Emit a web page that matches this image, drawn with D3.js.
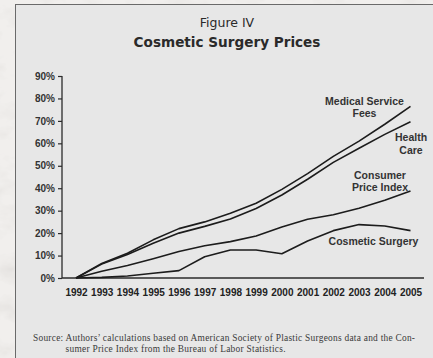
<!DOCTYPE html>
<html>
<head>
<meta charset="utf-8">
<script src="https://cdn.jsdelivr.net/npm/d3@7/dist/d3.min.js"></script>
<style>
  html, body { margin: 0; padding: 0; background: #efedeb; }
  svg { display: block; }
</style>
</head>
<body>
<svg id="chart" width="433" height="358"></svg>
<script>
// Years on the x axis
const years = [1992, 1993, 1994, 1995, 1996, 1997, 1998, 1999, 2000, 2001, 2002, 2003, 2004, 2005];

// Cumulative price change since 1992, in percent
const medicalServiceFees = [0, 6.5, 11, 17, 22, 25, 28.8, 33.3, 39.5, 46.5, 54.2, 61, 68.5, 76.5];
const healthCare         = [0, 6.2, 10.5, 15.5, 20, 23, 26.3, 31, 37, 44, 51.5, 57.8, 64, 69.6];
const consumerPriceIndex = [0, 3.0, 5.6, 8.6, 11.8, 14.4, 16.2, 18.7, 22.7, 26.2, 28.2, 31.1, 34.6, 38.8];
const cosmeticSurgery    = [0, 0.3, 0.9, 2.1, 3.3, 9.5, 12.5, 12.5, 10.8, 16.5, 21.1, 23.8, 23.2, 21.1];

// Y axis ticks
const yTicks = [0, 10, 20, 30, 40, 50, 60, 70, 80, 90];

const seriesNames = ["Medical Service Fees", "Health Care", "Consumer Price Index", "Cosmetic Surgery"];
const seriesValues = [medicalServiceFees, healthCare, consumerPriceIndex, cosmeticSurgery];

const svg = d3.select("#chart");

// Pale marble backdrop behind the figure panel
const defs = svg.append("defs");
const stone = defs.append("filter").attr("id", "stone")
  .attr("x", 0).attr("y", 0).attr("width", "100%").attr("height", "100%");
stone.append("feTurbulence").attr("type", "fractalNoise")
  .attr("baseFrequency", "0.03 0.05").attr("numOctaves", 4).attr("seed", 7).attr("result", "noise");
stone.append("feColorMatrix").attr("in", "noise").attr("type", "matrix")
  .attr("values", "0 0 0 0 0.62  0 0 0 0 0.6  0 0 0 0 0.58  -1.4 0 0 0 0.75")
  .attr("result", "veins");
stone.append("feComposite").attr("in", "veins").attr("in2", "SourceGraphic").attr("operator", "over");

svg.append("rect").attr("width", 433).attr("height", 358).attr("fill", "#f1efed");
svg.append("rect").attr("width", 433).attr("height", 358).attr("fill", "#f1efed")
  .attr("filter", "url(#stone)").attr("opacity", 0.55);

// Figure panel
svg.append("rect")
  .attr("x", 15.5).attr("y", 4.5).attr("width", 430).attr("height", 360)
  .attr("fill", "#e7e7e7").attr("stroke", "#6a6a6a").attr("stroke-width", 1);

// Titles
svg.append("text").attr("x", 227).attr("y", 27).attr("text-anchor", "middle")
  .attr("font-family", "'DejaVu Sans', sans-serif").attr("font-size", 12.5)
  .attr("fill", "#2a2a2a").text("Figure IV");
svg.append("text").attr("x", 227).attr("y", 47).attr("text-anchor", "middle")
  .attr("font-family", "'DejaVu Sans', sans-serif").attr("font-weight", "bold").attr("font-size", 13.6)
  .attr("fill", "#2a2a2a").text("Cosmetic Surgery Prices");

// Scales
const x = d3.scaleLinear().domain([1992, 2005]).range([76, 410.5]);
const y = d3.scaleLinear().domain([0, 90]).range([278, 76]);

const ink = "#2b2b2b";

// Y axis
const yAxis = svg.append("g").attr("transform", "translate(62,0)")
  .call(d3.axisLeft(y).tickValues(yTicks).tickFormat(d => d + "%").tickSize(4).tickPadding(3));
yAxis.select(".domain").attr("stroke", ink).attr("stroke-width", 1.3).attr("d", `M0,${y(90)}V${y(0)}`);
yAxis.selectAll(".tick line").attr("stroke", ink).attr("stroke-width", 1.2);
yAxis.selectAll(".tick text")
  .attr("font-family", "'Liberation Sans', Arial, sans-serif").attr("font-weight", "bold")
  .attr("font-size", 10).attr("fill", "#333");

// X axis baseline and year labels
const xAxis = svg.append("g").attr("transform", `translate(0,${y(0)})`)
  .call(d3.axisBottom(x).tickValues(years).tickFormat(d3.format("d")).tickSize(0).tickPadding(11));
xAxis.select(".domain").attr("stroke", ink).attr("stroke-width", 1.3).attr("d", "M62,0H424");
xAxis.selectAll(".tick text")
  .attr("font-family", "'Liberation Sans', Arial, sans-serif").attr("font-weight", "bold")
  .attr("font-size", 10).attr("fill", "#222");

// Series lines
const line = d3.line().x((d, i) => x(years[i])).y(d => y(d));
svg.append("g").selectAll("path").data(seriesValues).join("path")
  .attr("d", line).attr("fill", "none").attr("stroke", "#1c1c1c")
  .attr("stroke-width", 1.6).attr("stroke-linejoin", "round");

// Series labels
const labels = [
  { lines: ["Medical Service", "Fees"], x: 364.5, y: 104.5 },
  { lines: ["Health", "Care"], x: 411, y: 141 },
  { lines: ["Consumer", "Price Index"], x: 380, y: 178.5 },
  { lines: ["Cosmetic Surgery"], x: 373.5, y: 244.5 }
];
labels.forEach(l => {
  const t = svg.append("text").attr("text-anchor", "middle")
    .attr("font-family", "'Liberation Sans', Arial, sans-serif").attr("font-weight", "bold")
    .attr("font-size", 10.5).attr("fill", "#333");
  l.lines.forEach((s, i) => {
    t.append("tspan").attr("x", l.x).attr("y", l.y + i * 12.8).text(s);
  });
});

// Source note
const note = svg.append("g").attr("font-family", "'Liberation Serif', 'Times New Roman', serif")
  .attr("font-size", 9.4).attr("fill", "#3a3a3a");
note.append("text").attr("x", 33).attr("y", 341)
  .attr("textLength", 382).attr("lengthAdjust", "spacing")
  .text("Source: Authors’ calculations based on American Society of Plastic Surgeons data and the Con-");
note.append("text").attr("x", 65.5).attr("y", 352)
  .attr("textLength", 220).attr("lengthAdjust", "spacing")
  .text("sumer Price Index from the Bureau of Labor Statistics.");
</script>
</body>
</html>
